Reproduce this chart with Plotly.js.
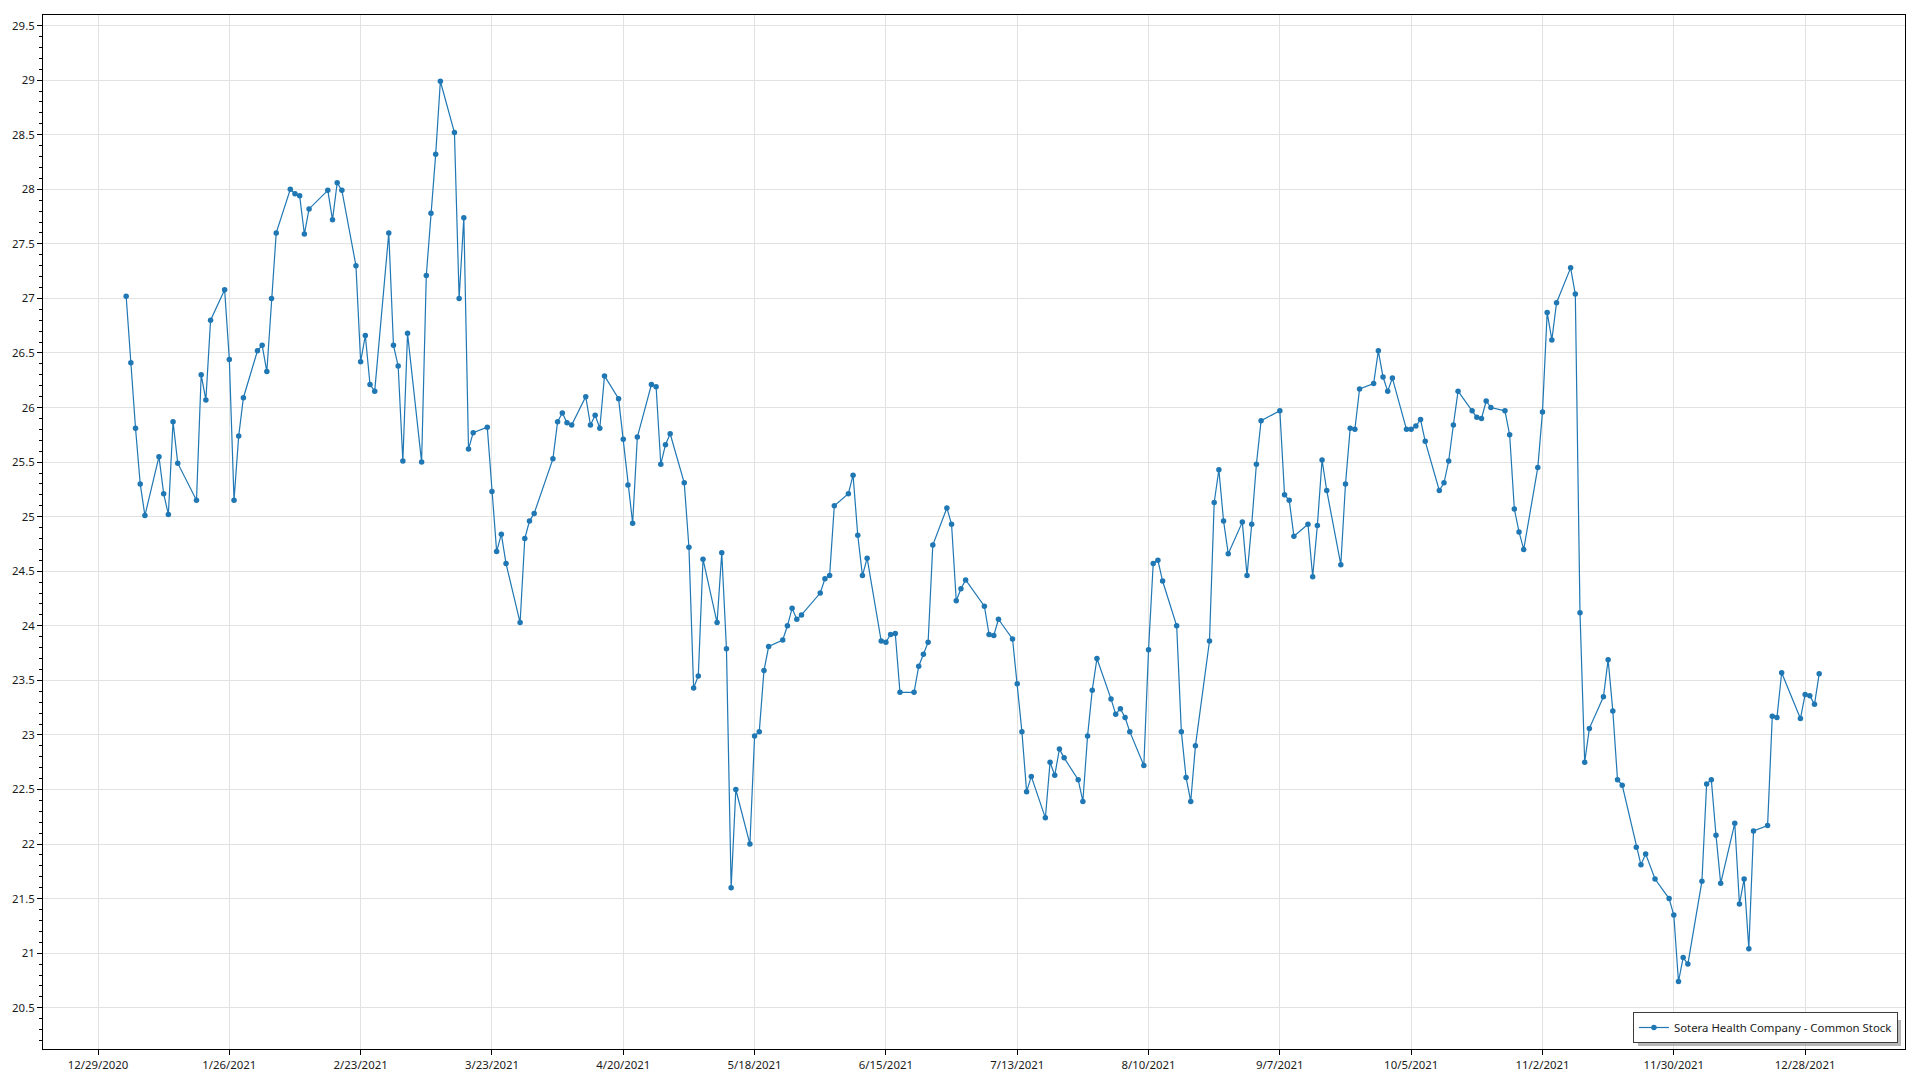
<!DOCTYPE html>
<html>
<head>
<meta charset="utf-8">
<script src="https://cdn.plot.ly/plotly-3.0.1.min.js"></script>
<style>
  html, body { margin: 0; padding: 0; background: #ffffff; }
  #chart { width: 1920px; height: 1080px; }
</style>
</head>
<body>
<div id="chart"></div>
<script>
const seriesName = 'Sotera Health Company - Common Stock';

const dates = [
  '2021-01-04','2021-01-05','2021-01-06','2021-01-07','2021-01-08','2021-01-11','2021-01-12','2021-01-13','2021-01-14','2021-01-15',
  '2021-01-19','2021-01-20','2021-01-21','2021-01-22','2021-01-25','2021-01-26','2021-01-27','2021-01-28','2021-01-29',
  '2021-02-01','2021-02-02','2021-02-03','2021-02-04','2021-02-05','2021-02-08','2021-02-09','2021-02-10','2021-02-11','2021-02-12',
  '2021-02-16','2021-02-17','2021-02-18','2021-02-19','2021-02-22','2021-02-23','2021-02-24','2021-02-25','2021-02-26',
  '2021-03-01','2021-03-02','2021-03-03','2021-03-04','2021-03-05','2021-03-08','2021-03-09','2021-03-10','2021-03-11','2021-03-12',
  '2021-03-15','2021-03-16','2021-03-17','2021-03-18','2021-03-19','2021-03-22','2021-03-23','2021-03-24','2021-03-25','2021-03-26',
  '2021-03-29','2021-03-30','2021-03-31',
  '2021-04-01','2021-04-05','2021-04-06','2021-04-07','2021-04-08','2021-04-09','2021-04-12','2021-04-13','2021-04-14','2021-04-15',
  '2021-04-16','2021-04-19','2021-04-20','2021-04-21','2021-04-22','2021-04-23','2021-04-26','2021-04-27','2021-04-28','2021-04-29','2021-04-30',
  '2021-05-03','2021-05-04','2021-05-05','2021-05-06','2021-05-07','2021-05-10','2021-05-11','2021-05-12','2021-05-13','2021-05-14',
  '2021-05-17','2021-05-18','2021-05-19','2021-05-20','2021-05-21','2021-05-24','2021-05-25','2021-05-26','2021-05-27','2021-05-28',
  '2021-06-01','2021-06-02','2021-06-03','2021-06-04','2021-06-07','2021-06-08','2021-06-09','2021-06-10','2021-06-11',
  '2021-06-14','2021-06-15','2021-06-16','2021-06-17','2021-06-18','2021-06-21','2021-06-22','2021-06-23','2021-06-24','2021-06-25',
  '2021-06-28','2021-06-29','2021-06-30',
  '2021-07-01','2021-07-02','2021-07-06','2021-07-07','2021-07-08','2021-07-09','2021-07-12','2021-07-13','2021-07-14','2021-07-15',
  '2021-07-16','2021-07-19','2021-07-20','2021-07-21','2021-07-22','2021-07-23','2021-07-26','2021-07-27','2021-07-28','2021-07-29','2021-07-30',
  '2021-08-02','2021-08-03','2021-08-04','2021-08-05','2021-08-06','2021-08-09','2021-08-10','2021-08-11','2021-08-12','2021-08-13',
  '2021-08-16','2021-08-17','2021-08-18','2021-08-19','2021-08-20','2021-08-23','2021-08-24','2021-08-25','2021-08-26','2021-08-27',
  '2021-08-30','2021-08-31',
  '2021-09-01','2021-09-02','2021-09-03','2021-09-07','2021-09-08','2021-09-09','2021-09-10','2021-09-13','2021-09-14','2021-09-15',
  '2021-09-16','2021-09-17','2021-09-20','2021-09-21','2021-09-22','2021-09-23','2021-09-24','2021-09-27','2021-09-28','2021-09-29','2021-09-30',
  '2021-10-01','2021-10-04','2021-10-05','2021-10-06','2021-10-07','2021-10-08','2021-10-11','2021-10-12','2021-10-13','2021-10-14',
  '2021-10-15','2021-10-18','2021-10-19','2021-10-20','2021-10-21','2021-10-22','2021-10-25','2021-10-26','2021-10-27','2021-10-28','2021-10-29',
  '2021-11-01','2021-11-02','2021-11-03','2021-11-04','2021-11-05','2021-11-08','2021-11-09','2021-11-10','2021-11-11','2021-11-12',
  '2021-11-15','2021-11-16','2021-11-17','2021-11-18','2021-11-19','2021-11-22','2021-11-23','2021-11-24','2021-11-26','2021-11-29','2021-11-30',
  '2021-12-01','2021-12-02','2021-12-03','2021-12-06','2021-12-07','2021-12-08','2021-12-09','2021-12-10','2021-12-13','2021-12-14',
  '2021-12-15','2021-12-16','2021-12-17','2021-12-20','2021-12-21','2021-12-22','2021-12-23','2021-12-27','2021-12-28','2021-12-29',
  '2021-12-30','2021-12-31'
];

const prices = [
  27.02,26.41,25.81,25.30,25.01,25.55,25.21,25.02,25.87,25.49,
  25.15,26.30,26.07,26.80,27.08,26.44,25.15,25.74,26.09,
  26.52,26.57,26.33,27.00,27.60,28.00,27.96,27.94,27.59,27.82,
  27.99,27.72,28.06,27.99,27.30,26.42,26.66,26.21,26.15,
  27.60,26.57,26.38,25.51,26.68,25.50,27.21,27.78,28.32,28.99,
  28.52,27.00,27.74,25.62,25.77,25.82,25.23,24.68,24.84,24.57,
  24.03,24.80,24.96,
  25.03,25.53,25.87,25.95,25.86,25.84,26.10,25.84,25.93,25.81,
  26.29,26.08,25.71,25.29,24.94,25.73,26.21,26.19,25.48,25.66,25.76,
  25.31,24.72,23.43,23.54,24.61,24.03,24.67,23.79,21.60,22.50,
  22.00,22.99,23.03,23.59,23.81,23.87,24.00,24.16,24.06,24.10,
  24.30,24.43,24.46,25.10,25.21,25.38,24.83,24.46,24.62,
  23.86,23.85,23.92,23.93,23.39,23.39,23.63,23.74,23.85,24.74,
  25.08,24.93,24.23,
  24.34,24.42,24.18,23.92,23.91,24.06,23.88,23.47,23.03,22.48,
  22.62,22.24,22.75,22.63,22.87,22.79,22.59,22.39,22.99,23.41,23.70,
  23.33,23.19,23.24,23.16,23.03,22.72,23.78,24.57,24.60,24.41,
  24.00,23.03,22.61,22.39,22.90,23.86,25.13,25.43,24.96,24.66,
  24.95,24.46,
  24.93,25.48,25.88,25.97,25.20,25.15,24.82,24.93,24.45,24.92,
  25.52,25.24,24.56,25.30,25.81,25.80,26.17,26.22,26.52,26.28,26.15,
  26.27,25.80,25.80,25.83,25.89,25.69,25.24,25.31,25.51,25.84,
  26.15,25.97,25.91,25.90,26.06,26.00,25.97,25.75,25.07,24.86,24.70,
  25.45,25.96,26.87,26.62,26.96,27.28,27.04,24.12,22.75,23.06,
  23.35,23.69,23.22,22.59,22.54,21.97,21.81,21.91,21.68,21.50,21.35,
  20.74,20.96,20.90,21.66,22.55,22.59,22.08,21.64,22.19,21.45,
  21.68,21.04,22.12,22.17,23.17,23.16,23.57,23.15,23.37,23.36,
  23.28,23.56
];

const xTickDates = ['2020-12-29','2021-01-26','2021-02-23','2021-03-23','2021-04-20','2021-05-18','2021-06-15',
                    '2021-07-13','2021-08-10','2021-09-07','2021-10-05','2021-11-02','2021-11-30','2021-12-28'];
const xTickLabels = ['12/29/2020','1/26/2021','2/23/2021','3/23/2021','4/20/2021','5/18/2021','6/15/2021',
                     '7/13/2021','8/10/2021','9/7/2021','10/5/2021','11/2/2021','11/30/2021','12/28/2021'];
const yTickValues = [20.5,21,21.5,22,22.5,23,23.5,24,24.5,25,25.5,26,26.5,27,27.5,28,28.5,29,29.5];
const yTickLabels = ['20.5','21','21.5','22','22.5','23','23.5','24','24.5','25','25.5','26','26.5','27','27.5','28','28.5','29','29.5'];

const lineColor = '#1f77b4';
const fontFamily = '"Noto Sans", "Open Sans", "DejaVu Sans", sans-serif';
const fontSize = 11.4;

const trace = {
  type: 'scatter',
  mode: 'lines+markers',
  name: seriesName,
  x: dates,
  y: prices,
  line: { color: lineColor, width: 1.2 },
  marker: { color: lineColor, size: 5.5 },
  hoverinfo: 'x+y'
};

const W = 1920, H = 1080;
const mL = 43, mR = 15, mT = 15, mB = 31;
const pw = W - mL - mR, ph = H - mT - mB;
function px2x(px) { return (px - mL) / pw; }
function py2y(py) { return (H - mB - py) / ph; }

const layout = {
  width: W,
  height: H,
  margin: { l: mL, r: mR, t: mT, b: mB, pad: 0 },
  paper_bgcolor: '#ffffff',
  plot_bgcolor: '#ffffff',
  font: { family: fontFamily, size: fontSize, color: '#1a1a1a' },
  showlegend: true,
  legend: {
    x: 0.9962, y: 0.0058, xanchor: 'right', yanchor: 'bottom',
    bgcolor: '#ffffff', bordercolor: '#3c3c3c', borderwidth: 1,
    font: { family: fontFamily, size: fontSize, color: '#1a1a1a' },
    itemwidth: 30
  },
  xaxis: {
    type: 'date',
    range: ['2020-12-17 06:29', '2022-01-18 07:12'],
    tickmode: 'array',
    tickvals: xTickDates,
    ticktext: xTickLabels,
    ticks: 'outside', ticklen: 5, tickcolor: '#000000', tickwidth: 1,
    showline: true, linecolor: '#000000', linewidth: 1, mirror: true,
    showgrid: true, gridcolor: '#e2e2e2', gridwidth: 1,
    zeroline: false,
    tickfont: { family: fontFamily, size: fontSize, color: '#1a1a1a' }
  },
  yaxis: {
    range: [20.122, 29.597],
    tickmode: 'array',
    tickvals: yTickValues,
    ticktext: yTickLabels,
    ticks: 'outside', ticklen: 5, tickcolor: '#000000', tickwidth: 1,
    minor: { dtick: 0.1, tick0: 0, ticks: 'outside', ticklen: 3, tickcolor: '#000000', showgrid: false },
    showline: true, linecolor: '#000000', linewidth: 1, mirror: true,
    showgrid: true, gridcolor: '#e2e2e2', gridwidth: 1,
    zeroline: false,
    tickfont: { family: fontFamily, size: fontSize, color: '#1a1a1a' }
  },
  shapes: [
    {
      type: 'rect', xref: 'paper', yref: 'paper', layer: 'above',
      x0: px2x(1638), x1: px2x(1901), y0: py2y(1046), y1: py2y(1020),
      fillcolor: '#9a9a9a', line: { width: 0 }, opacity: 0.7
    }
  ]
};

Plotly.newPlot('chart', [trace], layout, { displayModeBar: false, staticPlot: true });
</script>
</body>
</html>
